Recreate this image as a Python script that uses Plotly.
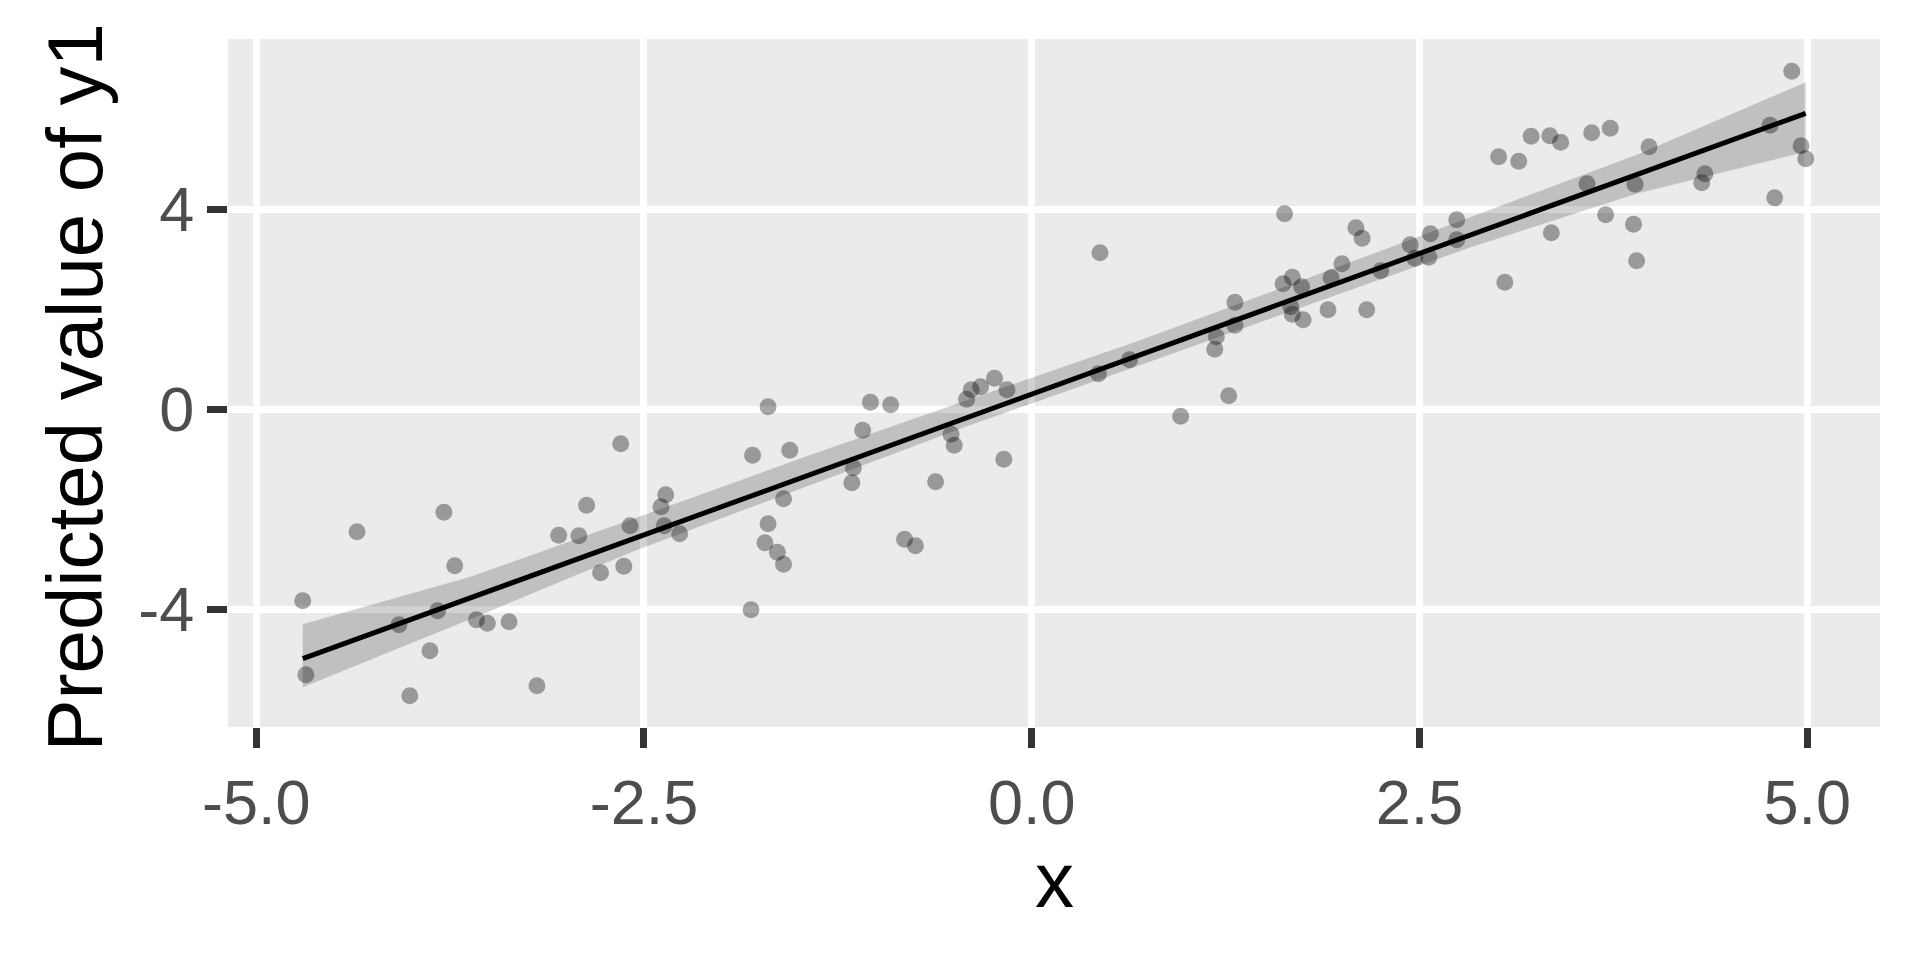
import numpy as np
import plotly.graph_objects as go

x = [-2.65, -4.35, -3.79, -3.72, -4.70, -4.08, -3.83, -3.58, -3.51, -3.37,
     -3.88, -4.68, -4.01, -3.19, -3.05, -2.92, -2.87, -2.78, -2.63, -2.59,
     -1.70, -1.04, -0.91, -1.09, -1.80, -1.56, -2.36, -2.39, -2.37, -2.27,
     -1.60, -1.70, -1.72, -1.64, -1.60, -1.81, -1.16, -1.15, -0.62, -0.82,
     -0.75, -0.52, -0.50, -0.18, -0.42, -0.39, -0.33, -0.24, -0.16,
     0.44, 1.63, 0.96, 1.27, 0.43, 0.63, 1.18, 1.19, 1.31, 1.31,
     1.62, 1.68, 1.74, 1.67, 1.68, 1.75, 1.91, 1.93, 2.00, 2.09,
     2.13, 2.16, 2.25, 2.44, 2.47, 2.56, 2.57, 2.74, 2.74,
     4.90, 3.01, 3.14, 3.22, 3.34, 3.41, 3.61, 3.73, 3.98, 3.58,
     3.89, 4.34, 4.32, 4.76, 4.96, 4.99, 4.79, 3.35, 3.70, 3.88,
     3.90, 3.05]
y1 = [-0.69, -2.45, -2.06, -3.13, -3.83, -4.31, -4.03, -4.21, -4.28, -4.25,
      -4.83, -5.31, -5.73, -5.53, -2.52, -2.53, -1.92, -3.27, -3.14, -2.33,
      0.05, 0.14, 0.09, -0.42, -0.92, -0.82, -1.71, -1.95, -2.33, -2.49,
      -1.79, -2.29, -2.67, -2.86, -3.10, -4.01, -1.47, -1.17, -1.45, -2.60,
      -2.73, -0.50, -0.72, -1.00, 0.20, 0.39, 0.45, 0.62, 0.39,
      3.13, 3.91, -0.14, 0.27, 0.71, 0.99, 1.20, 1.45, 1.68, 2.14,
      2.51, 2.64, 2.45, 2.05, 1.90, 1.79, 1.99, 2.63, 2.91, 3.63,
      3.42, 1.99, 2.77, 3.29, 3.02, 3.04, 3.51, 3.79, 3.39,
      6.76, 5.05, 4.96, 5.46, 5.47, 5.34, 5.53, 5.62, 5.25, 4.51,
      4.50, 4.71, 4.53, 5.68, 5.27, 5.01, 4.23, 3.53, 3.89, 3.70,
      2.97, 2.54]

# confidence band of the predictions
ci_x = [-4.70, -3.62, -2.55, -1.47, -0.40, 0.68, 1.76, 2.83, 3.91, 4.99]
ci_low = [-5.56, -4.20, -2.82, -1.56, -0.32, 0.86, 2.06, 3.24, 4.32, 5.15]
ci_high = [-4.30, -3.35, -2.17, -0.96, 0.20, 1.36, 2.60, 3.85, 5.10, 6.54]

x_ticks = [-5.0, -2.5, 0.0, 2.5, 5.0]
y_ticks = [-4, 0, 4]

# fitted line y1 ~ x
b1, b0 = np.polyfit(x, y1, 1)
xg = np.array([min(x), max(x)])
pred = b0 + b1 * xg

fig = go.Figure()

fig.add_trace(go.Scatter(x=ci_x + ci_x[::-1], y=ci_high + ci_low[::-1],
                         fill='toself', fillcolor='rgba(0,0,0,0.18)', line=dict(width=0),
                         mode='lines', hoverinfo='skip', showlegend=False))
fig.add_trace(go.Scatter(x=x, y=y1, mode='markers', showlegend=False,
                         marker=dict(size=17, color='rgba(0,0,0,0.35)', line=dict(width=0))))
fig.add_trace(go.Scatter(x=xg, y=pred, mode='lines', showlegend=False,
                         line=dict(color='black', width=5)))

axis_common = dict(showgrid=True, gridcolor='white', gridwidth=7, zeroline=False,
                   showline=False, ticks='outside', ticklen=20, tickwidth=7,
                   tickcolor='#333333', tickfont=dict(size=63, color='#4D4D4D'))

fig.update_xaxes(range=[-5.182, 5.469], tickvals=x_ticks,
                 ticktext=['%.1f' % v for v in x_ticks], **axis_common)
fig.update_yaxes(range=[-6.354, 7.406], tickvals=y_ticks,
                 ticktext=[str(v) for v in y_ticks], **axis_common)

fig.add_annotation(text='x', xref='paper', yref='paper', x=0.5, y=-0.222,
                   xanchor='center', yanchor='middle', showarrow=False,
                   font=dict(size=78, color='black'))
fig.add_annotation(text='Predicted value of y1', xref='paper', yref='paper',
                   x=-0.0926, y=0.4935, textangle=-90, xanchor='center', yanchor='middle',
                   showarrow=False, font=dict(size=78, color='black'))

fig.update_layout(
    width=1920, height=960, autosize=False,
    margin=dict(l=228, r=40, t=39, b=233, pad=0),
    plot_bgcolor='#EBEBEB', paper_bgcolor='white',
    font=dict(family='Arial, Liberation Sans, sans-serif'),
)

fig.write_html("out.html", config={'displayModeBar': False},
               post_script="document.body.style.margin='0';")
